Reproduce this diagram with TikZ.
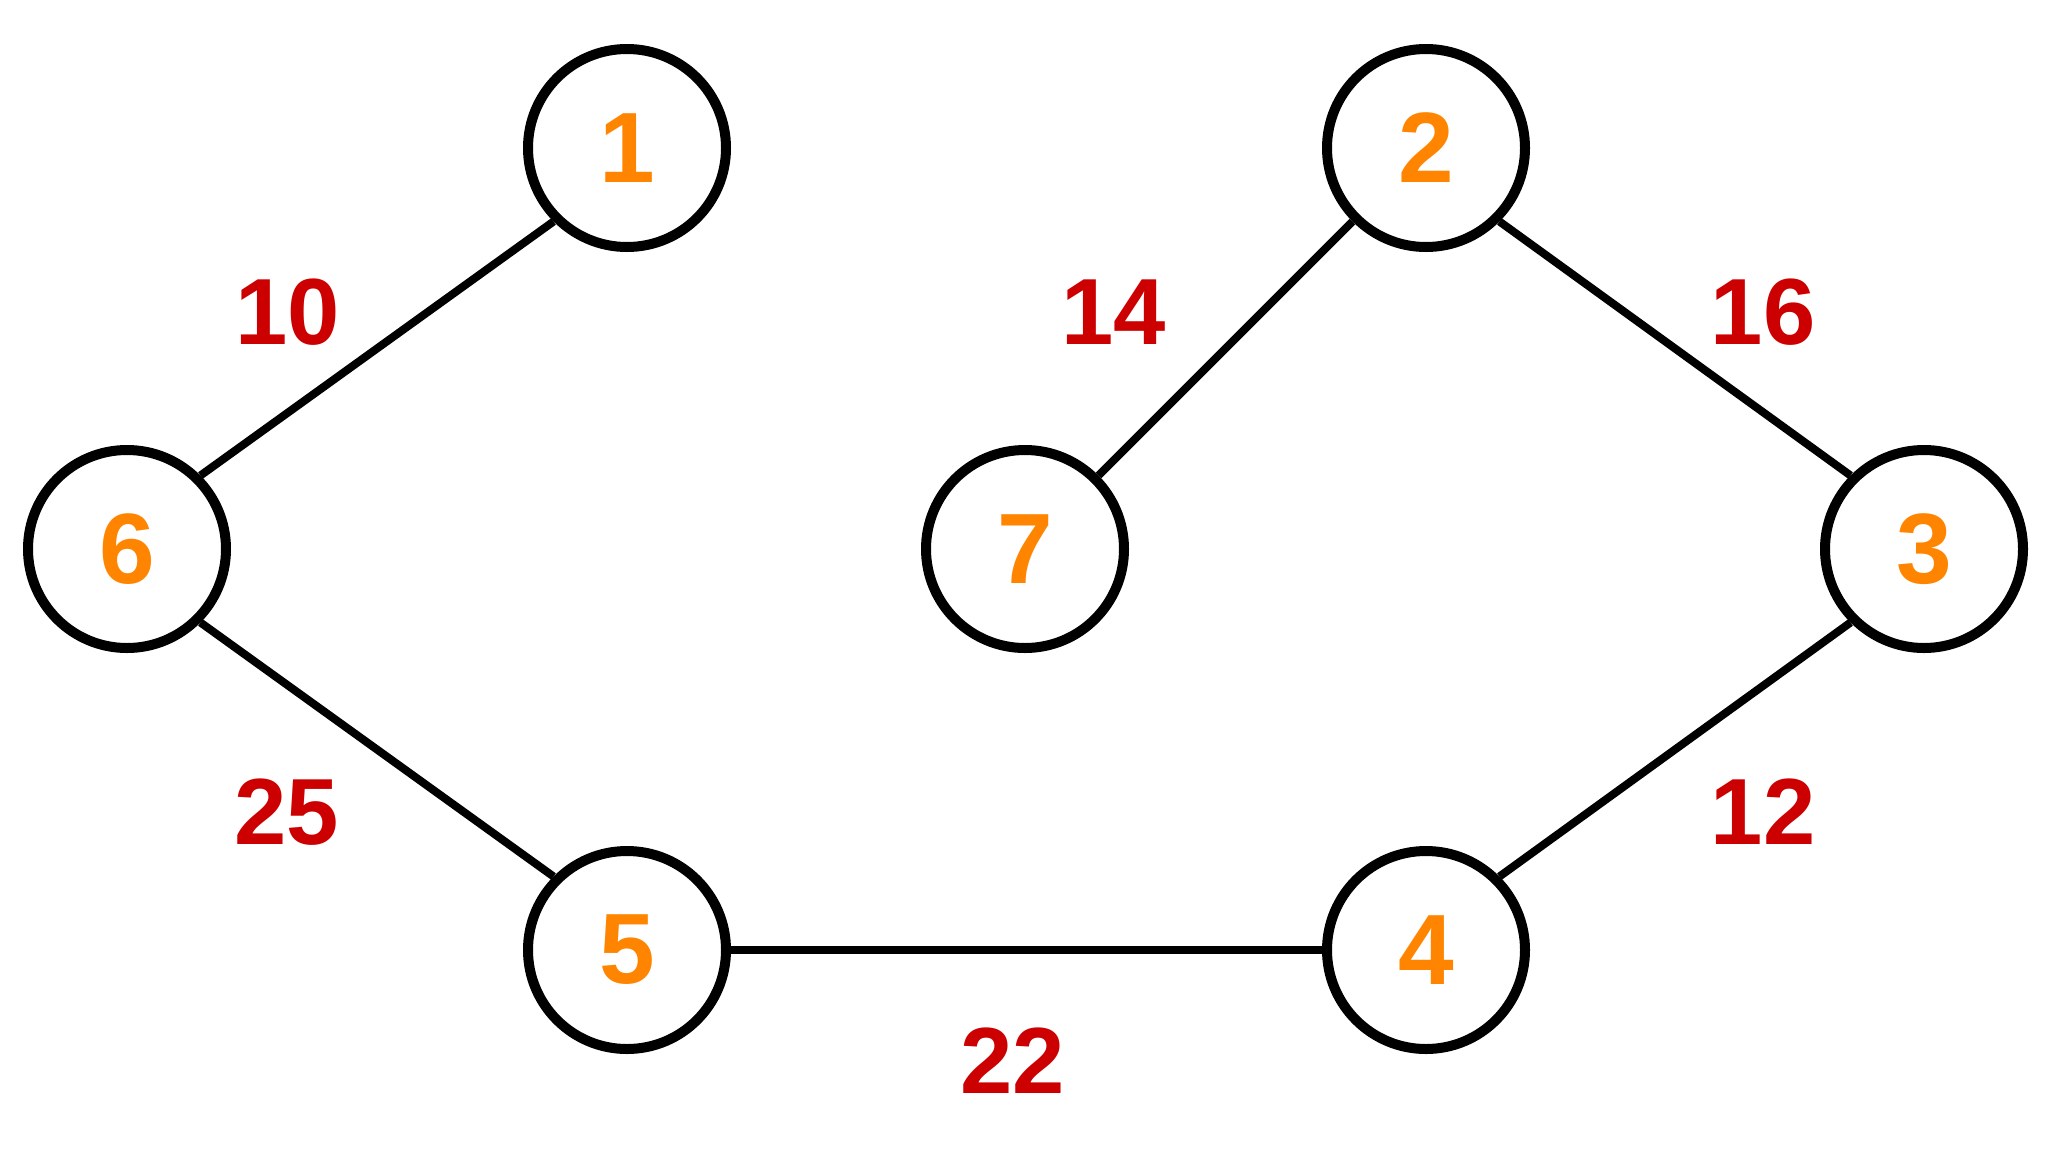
\documentclass[tikz,border=0pt]{standalone}
\usepackage{fontspec}
\setmainfont{Liberation Sans}
\definecolor{nodeorange}{HTML}{FF8400}
\definecolor{wred}{HTML}{CC0000}
\begin{document}
\begin{tikzpicture}[x=1pt,y=-1pt,
  vert/.style={circle,draw=black,line width=10pt,minimum size=198pt,inner sep=0pt,
    text=nodeorange,font=\fontsize{100}{100}\selectfont\bfseries},
  wlab/.style={text=wred,font=\fontsize{94}{94}\selectfont\bfseries,inner sep=0pt},
  edge/.style={line width=8pt,draw=black}]
\path[use as bounding box] (0,0) rectangle (2048,1152);
\node[vert] (n1) at (627,148) {1};
\node[vert] (n2) at (1426,148) {2};
\node[vert] (n6) at (127,549) {6};
\node[vert] (n7) at (1025,549) {7};
\node[vert] (n3) at (1924,549) {3};
\node[vert] (n5) at (627,950) {5};
\node[vert] (n4) at (1426,950) {4};
\draw[edge] (n1.south west) -- (n6.north east);
\draw[edge] (n2.south west) -- (n7.north east);
\draw[edge] (n2.south east) -- (n3.north west);
\draw[edge] (n6.south east) -- (n5.north west);
\draw[edge] (n3.south west) -- (n4.north east);
\draw[edge] (n5.east) -- (n4.west);
\node[wlab] (l10) at (288,312) {10};
\node[wlab] (l14) at (1114,312) {14};
\node[wlab] (l16) at (1763,312) {16};
\node[wlab] (l25) at (287,812) {25};
\node[wlab] (l12) at (1763,812) {12};
\node[wlab] (l22) at (1013,1061) {22};
\end{tikzpicture}
\end{document}
